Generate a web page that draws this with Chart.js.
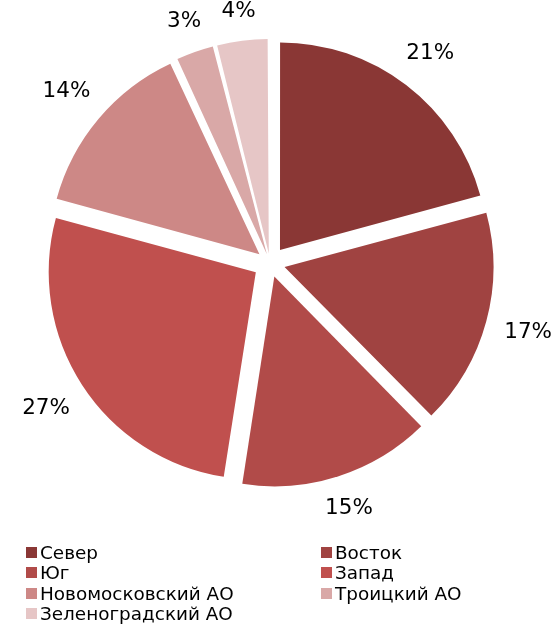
<!DOCTYPE html>
<html>
<head>
<meta charset="utf-8">
<script src="https://cdn.jsdelivr.net/npm/chart.js@4/dist/chart.umd.min.js"></script>
<style>
  html, body { margin: 0; padding: 0; background: #fff; }
  #wrap { position: relative; width: 558px; height: 625px; overflow: hidden; }
  #pie { position: absolute; left: 0; top: 0; }
  .lg { position: absolute; height: 20px; line-height: 20px; font-family: "DejaVu Sans", Verdana, sans-serif;
        font-size: 18.4px; color: #000; white-space: nowrap; }
  .lg i { position: absolute; left: 0; top: 4px; width: 11px; height: 11px; }
  .lg span { position: absolute; left: 14px; top: 0; }
</style>
</head>
<body>
<div id="wrap">
  <canvas id="pie" width="558" height="625"></canvas>
</div>
<script>
// Districts and their share of the total, in percent
const districts = ['Север', 'Восток', 'Юг', 'Запад', 'Новомосковский АО', 'Троицкий АО', 'Зеленоградский АО'];
const shares = [21, 17, 15, 27, 14, 3, 4];

// Slice colours, darkest first
const palette = ['#8A3735', '#A04341', '#B14B49', '#C0504E', '#CD8886', '#D9A8A7', '#E6C6C6'];

const EXPLODE = 17;   // how far every slice is pulled out, px
const LABEL_GAP = 18; // space between the slice rim and its percentage label

// Chart.js pushes an arc by offset/4 * (2 - sin(circumference)), so invert that
// to get the same pull-out distance for every slice.
function explodeOffset(ctx) {
  const data = ctx.dataset.data;
  const total = data.reduce((a, b) => a + b, 0);
  const circ = (data[ctx.dataIndex] / total) * Math.PI * 2;
  return 4 * EXPLODE / (2 - Math.sin(Math.min(Math.PI, circ)));
}

const percentLabels = {
  id: 'percentLabels',
  afterDatasetsDraw(chart) {
    const ctx = chart.ctx;
    const meta = chart.getDatasetMeta(0);
    const values = chart.data.datasets[0].data;
    ctx.save();
    ctx.font = '21.5px "DejaVu Sans", Verdana, sans-serif';
    ctx.fillStyle = '#000';
    ctx.textAlign = 'center';
    ctx.textBaseline = 'middle';
    meta.data.forEach((arc, i) => {
      const p = arc.getProps(['x', 'y', 'startAngle', 'endAngle', 'outerRadius'], true);
      const mid = (p.startAngle + p.endAngle) / 2;
      const cos = Math.cos(mid), sin = Math.sin(mid);
      const text = values[i] + '%';
      const hw = ctx.measureText(text).width / 2;
      const hh = 9;
      const dist = p.outerRadius + EXPLODE + LABEL_GAP + Math.abs(cos) * hw + Math.abs(sin) * hh;
      ctx.fillText(text, p.x + cos * dist, p.y + sin * dist);
    });
    ctx.restore();
  }
};

const chart = new Chart(document.getElementById('pie'), {
  type: 'pie',
  data: {
    labels: districts,
    datasets: [{
      data: shares,
      backgroundColor: palette,
      borderWidth: 0,
      offset: explodeOffset,
      hoverOffset: 0
    }]
  },
  options: {
    responsive: false,
    animation: false,
    radius: 207,
    layout: { padding: { left: 0, right: 18, top: 0, bottom: 99 } },
    plugins: {
      legend: { display: false },
      tooltip: { enabled: false }
    }
  },
  plugins: [percentLabels]
});

// Two-column legend under the pie
const wrap = document.getElementById('wrap');
const colX = [26, 321];
const rowTop = [543, 563, 584, 604];
districts.forEach((name, i) => {
  const item = document.createElement('div');
  item.className = 'lg';
  item.style.left = colX[i % 2] + 'px';
  item.style.top = rowTop[Math.floor(i / 2)] + 'px';
  const box = document.createElement('i');
  box.style.background = palette[i];
  const label = document.createElement('span');
  label.textContent = name;
  item.appendChild(box);
  item.appendChild(label);
  wrap.appendChild(item);
});
</script>
</body>
</html>
